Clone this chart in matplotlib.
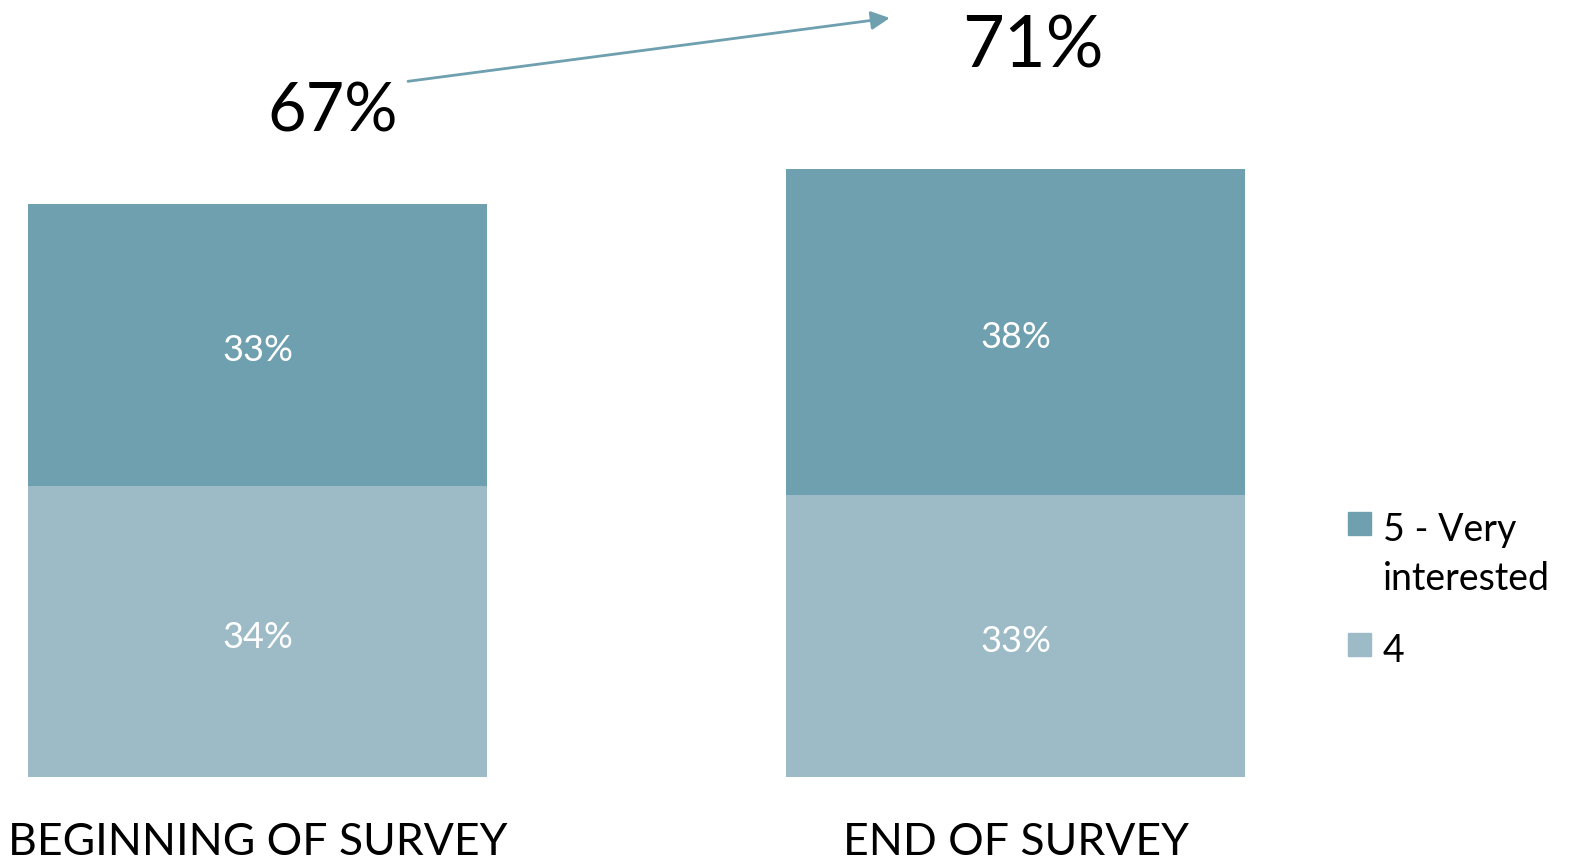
import matplotlib
matplotlib.use("Agg")
import matplotlib.pyplot as plt
from matplotlib.patches import Rectangle

# Survey interest levels (share of respondents, %)
categories = ["BEGINNING OF SURVEY", "END OF SURVEY"]
series_labels = ["5 - Very\ninterested", "4"]
score_4 = [34, 33]
score_5 = [33, 38]

color_5 = "#6FA0AF"
color_4 = "#9CBBC6"

plt.rcParams["font.family"] = ["Lato", "DejaVu Sans"]

W, H = 1589, 865
fig = plt.figure(figsize=(W / 100, H / 100), dpi=100)
ax = fig.add_axes([0, 0.1014, 1, 0.8986])

x = [0, 1]
bar_w = 0.606
ax.bar(x, score_4, width=bar_w, color=color_4)
ax.bar(x, score_5, width=bar_w, bottom=score_4, color=color_5)

ax.set_xlim(-0.3405, 1.757)
ax.set_ylim(0, 90.8)

# Segment value labels
for xi, b, t in zip(x, score_4, score_5):
    for yc, v in ((b / 2, b), (b + t / 2, t)):
        ax.annotate(f"{v}%", xy=(xi, yc), xytext=(0, -4), textcoords="offset points",
                    ha="center", va="center", color="white", fontsize=26)

# Combined share of 4 and 5 ratings above each bar
totals = [b + t for b, t in zip(score_4, score_5)]
total_pos = [(0.098, 77.6), (1.023, 85.3)]
total_size = [48, 52]
for (tx, ty), tot, fs in zip(total_pos, totals, total_size):
    ax.text(tx, ty, f"{tot}%", ha="center", va="center", color="black", fontsize=fs)

# Arrow showing the change in combined interest
ax.annotate("", xy=(0.834, 88.7), xytext=(0.198, 81.3),
            arrowprops=dict(arrowstyle="-|>", color=color_5, lw=2,
                            mutation_scale=28, shrinkA=0, shrinkB=0))

ax.set_xticks(x)
ax.set_xticklabels(categories, fontsize=32)
ax.tick_params(axis="x", length=0, pad=32)
ax.set_yticks([])
for s in ax.spines.values():
    s.set_visible(False)

# Legend drawn at the right edge
leg_items = [(series_labels[0], color_5, 512), (series_labels[1], color_4, 633)]
for label, col, ytop in leg_items:
    fig.patches.append(Rectangle((1348 / W, 1 - (ytop + 23) / H), 23 / W, 23 / H,
                                 transform=fig.transFigure, color=col))
    fig.text(1383 / W, 1 - ytop / H, label, ha="left", va="top",
             fontsize=27, linespacing=1.45, color="black")

fig.savefig("out.png", dpi=100)
